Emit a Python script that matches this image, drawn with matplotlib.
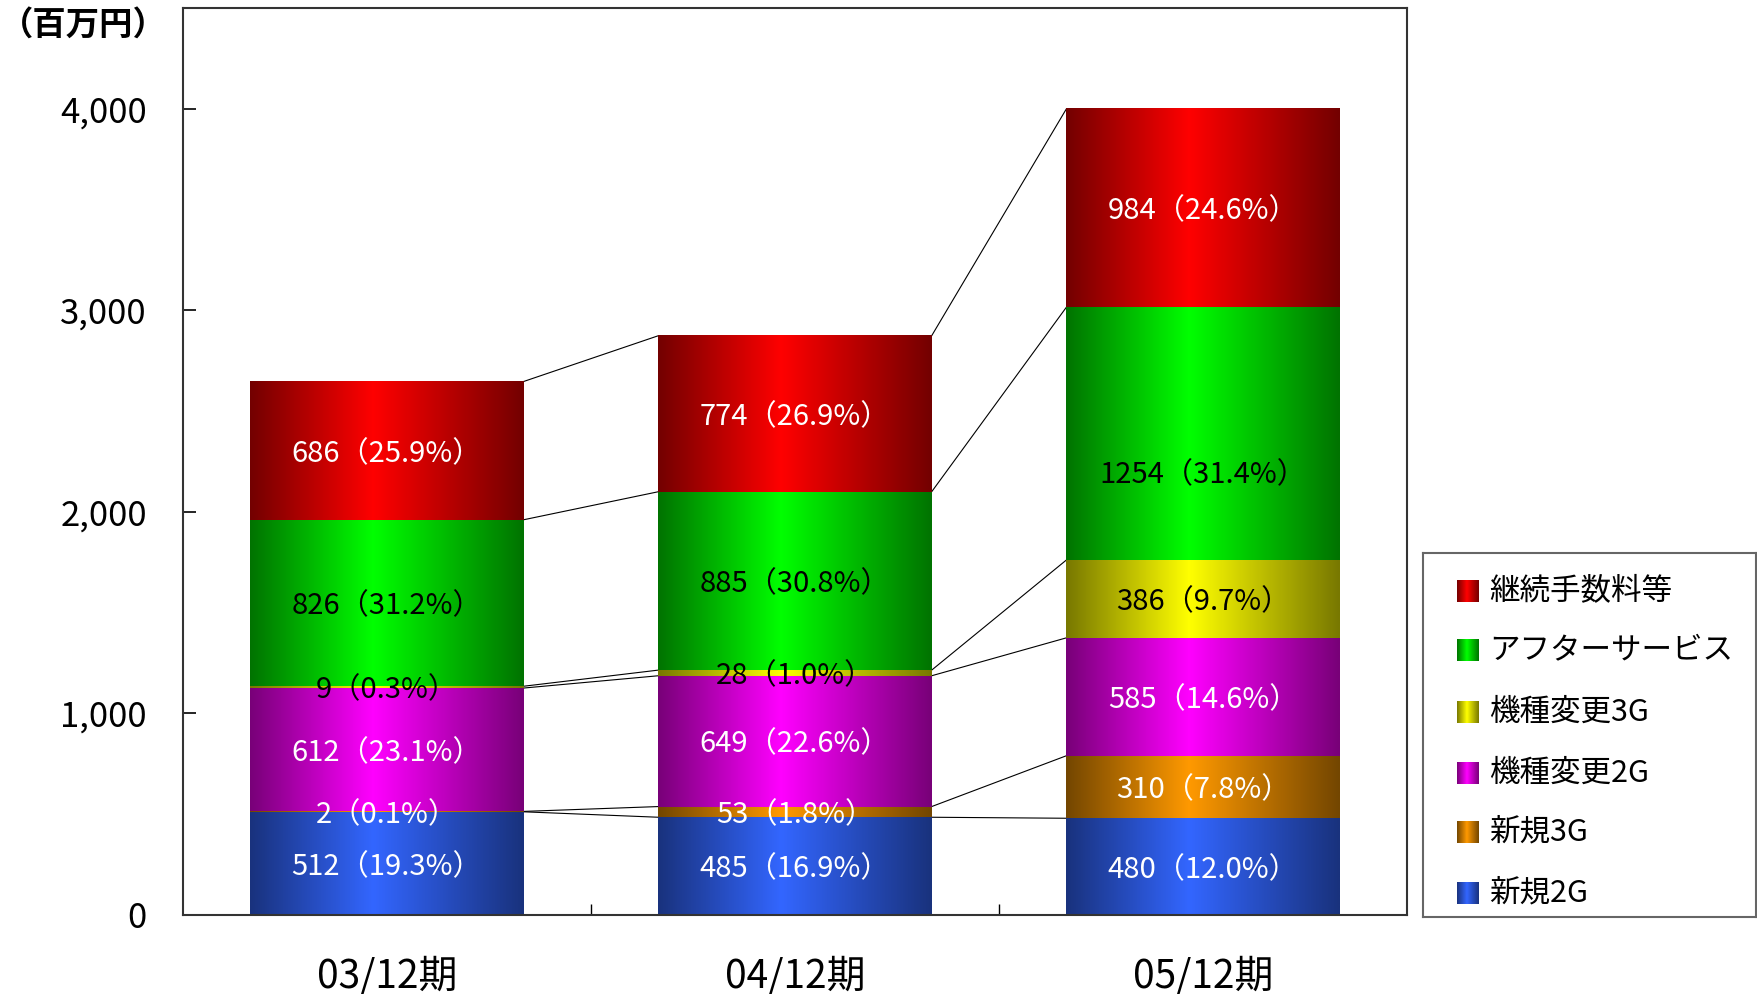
import numpy as np
import matplotlib
matplotlib.use('Agg')
import matplotlib.pyplot as plt
from matplotlib.colors import LinearSegmentedColormap

plt.rcParams['font.family'] = ['Noto Sans CJK JP', 'DejaVu Sans']

# data (百万円)
periods = ['03/12期', '04/12期', '05/12期']
series = ['新規2G', '新規3G', '機種変更2G', '機種変更3G', 'アフターサービス', '継続手数料等']
shinki_2g = [512, 485, 480]
shinki_3g = [2, 53, 310]
kihen_2g = [612, 649, 585]
kihen_3g = [9, 28, 386]
after = [826, 885, 1254]
keizoku = [686, 774, 984]
pct_shinki_2g = [19.3, 16.9, 12.0]
pct_shinki_3g = [0.1, 1.8, 7.8]
pct_kihen_2g = [23.1, 22.6, 14.6]
pct_kihen_3g = [0.3, 1.0, 9.7]
pct_after = [31.2, 30.8, 31.4]
pct_keizoku = [25.9, 26.9, 24.6]

values = [shinki_2g, shinki_3g, kihen_2g, kihen_3g, after, keizoku]
pcts = [pct_shinki_2g, pct_shinki_3g, pct_kihen_2g, pct_kihen_3g, pct_after, pct_keizoku]

# (edge, center) colours for the horizontal gradient
grad_cols = [('#19327D', '#3366FF'),
             ('#734600', '#FF9900'),
             ('#780078', '#FF00FF'),
             ('#787800', '#FFFF00'),
             ('#007300', '#00FF00'),
             ('#730000', '#FF0000')]
txt_cols = ['white', 'white', 'white', 'black', 'black', 'white']

def make_cmap(edge, center):
    return LinearSegmentedColormap.from_list('g', [(0, edge), (0.45, center), (1, edge)])

grad = np.linspace(0, 1, 256).reshape(1, -1)

fig = plt.figure(figsize=(17.57, 9.94), dpi=100)
ax = fig.add_axes([183/1757, 79/994, 1224/1757, 907/994])

x = np.arange(len(periods))
width = 0.67
bottoms = np.zeros(len(periods))
cum = [np.zeros(len(periods))]
for s, vals in enumerate(values):
    vals = np.array(vals, dtype=float)
    bars = ax.bar(x, vals, width, bottom=bottoms, color='none', edgecolor='none', zorder=2)
    cmap = make_cmap(*grad_cols[s])
    for b in bars:
        x0, y0 = b.get_x(), b.get_y()
        ax.imshow(grad, cmap=cmap, aspect='auto', zorder=2,
                  extent=[x0, x0 + b.get_width(), y0, y0 + b.get_height()])
    for i in range(len(periods)):
        ly = bottoms[i] + vals[i] / 2
        if s == 4 and i == 2:
            ly -= 190   # this label sits lower in the original
        ax.text(x[i], ly, f'{int(vals[i])}（{pcts[s][i]:.1f}%）',
                ha='center', va='center_baseline', fontsize=21, color=txt_cols[s], zorder=4)
    bottoms = bottoms + vals
    cum.append(bottoms.copy())

# connector lines between bars
for i in range(len(periods) - 1):
    for k in range(1, len(cum)):
        ax.plot([x[i] + width/2, x[i+1] - width/2], [cum[k][i], cum[k][i+1]],
                color='black', lw=0.8, zorder=1)

ax.set_xlim(-0.5, 2.5)
ax.set_ylim(0, 4500)
ax.set_yticks([0, 1000, 2000, 3000, 4000])
ax.set_yticklabels(['0', '1,000', '2,000', '3,000', '4,000'], fontsize=25)
ax.tick_params(axis='y', direction='in', length=9, width=1.2, pad=26)
ax.set_xticks(x)
ax.set_xticklabels(periods, fontsize=28, family=['Liberation Sans Narrow', 'Noto Sans CJK JP'])
ax.set_xticks([0.5, 1.5], minor=True)
ax.tick_params(axis='x', which='major', length=0, pad=30)
ax.tick_params(axis='x', which='minor', direction='in', length=8, width=1)
for sp in ax.spines.values():
    sp.set_color('#333333')
    sp.set_linewidth(1.5)

fig.text(83/1757, 1 - 25/994, '（百万円）', ha='center', va='center', fontsize=24, fontweight='bold')

# legend box
lax = fig.add_axes([1423/1757, 77/994, 333/1757, 364/994])
lax.set_xticks([])
lax.set_yticks([])
for sp in lax.spines.values():
    sp.set_color('#666666')
    sp.set_linewidth(1.5)
ypos = [24, 85, 144, 205, 267, 326]
for s in range(len(series)):
    cmap = make_cmap(*grad_cols[s])
    lax.imshow(grad, cmap=cmap, aspect='auto',
               extent=[34, 56, ypos[s] - 11, ypos[s] + 11])
    lax.text(66, ypos[s], series[s], ha='left', va='center', fontsize=22)
lax.set_xlim(0, 333)
lax.set_ylim(0, 364)

fig.savefig('out.png', dpi=100)
